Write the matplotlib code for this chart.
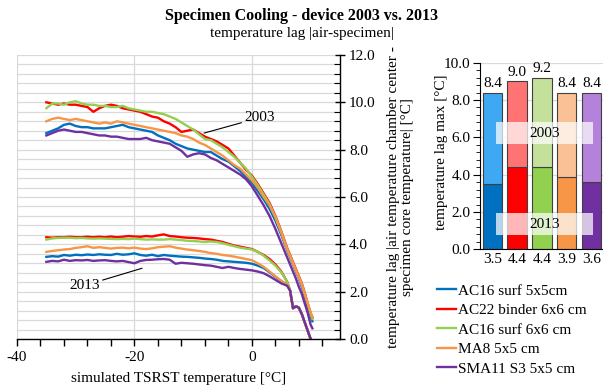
import matplotlib
matplotlib.use("Agg")
import matplotlib.pyplot as plt
from matplotlib.patches import Rectangle
from matplotlib.ticker import MultipleLocator, FormatStrFormatter

plt.rcParams['font.family'] = ['Liberation Serif', 'DejaVu Serif']
plt.rcParams['font.size'] = 11
plt.rcParams['axes.unicode_minus'] = False

# === Données ===
x_base = list(range(-35, 7)) + [6.5, 7, 7.5, 8, 8.5, 9, 9.5, 10]
x_2003 = x_base + [10.3]
x_2013 = x_base

names = ["AC16 surf 5x5cm", "AC22 binder 6x6 cm", "AC16 surf 6x6 cm",
         "MA8 5x5 cm", "SMA11 S3 5x5 cm"]
dark = ["#0070C0", "#FF0000", "#92D050", "#F79646", "#7030A0"]
light = ["#3FA8F2", "#FF7373", "#C4E19C", "#FAC196", "#B482DA"]

# device 2003
blue_2003 = [8.7, 8.8, 8.9, 9.05, 9.1, 9.0, 8.95, 8.95, 8.9, 8.9, 8.9, 8.95, 9.0, 9.05,
             8.95, 8.9, 8.85, 8.8, 8.75, 8.6, 8.5, 8.4, 8.25, 8.15, 8.05, 8.0, 7.95, 7.9,
             7.9, 7.75, 7.6, 7.5, 7.3, 7.1, 6.85, 6.6, 6.25, 5.9, 5.5, 5.0, 4.4, 3.75,
             3.45, 3.15, 2.85, 2.55, 2.2, 1.8, 1.35, 0.95, 0.75]
red_2003 = [10.0, 9.95, 9.9, 9.95, 9.9, 9.9, 9.85, 9.8, 9.6, 9.75, 9.85, 9.9, 9.85, 9.75,
            9.7, 9.65, 9.6, 9.5, 9.4, 9.35, 9.2, 9.1, 8.95, 8.75, 8.8, 8.85, 8.7, 8.55,
            8.45, 8.35, 8.2, 8.05, 7.75, 7.45, 7.15, 6.9, 6.55, 6.15, 5.75, 5.2, 4.55, 3.85,
            3.55, 3.25, 2.95, 2.65, 2.35, 1.95, 1.5, 1.1, 0.9]
green_2003 = [9.75, 9.95, 9.95, 9.9, 10.0, 10.05, 9.95, 9.9, 9.9, 9.85, 9.85, 9.8, 9.8, 9.85,
              9.75, 9.7, 9.65, 9.6, 9.6, 9.55, 9.5, 9.4, 9.3, 9.15, 9.0, 8.85, 8.65, 8.45,
              8.4, 8.25, 8.1, 7.9, 7.7, 7.45, 7.2, 6.85, 6.5, 6.1, 5.7, 5.15, 4.5, 3.8,
              3.5, 3.2, 2.9, 2.6, 2.3, 1.9, 1.5, 1.05, 0.85]
orange_2003 = [9.2, 9.3, 9.35, 9.3, 9.25, 9.3, 9.25, 9.2, 9.15, 9.1, 9.15, 9.1, 9.2, 9.15,
               9.1, 9.05, 9.0, 8.95, 8.9, 8.85, 8.8, 8.75, 8.7, 8.6, 8.55, 8.45, 8.3, 8.2,
               8.05, 7.9, 7.75, 7.55, 7.35, 7.2, 6.95, 6.7, 6.4, 6.0, 5.65, 5.15, 4.5, 3.8,
               3.5, 3.2, 2.9, 2.6, 2.3, 1.9, 1.5, 1.1, 0.95]
purple_2003 = [8.6, 8.7, 8.8, 8.85, 8.8, 8.75, 8.75, 8.7, 8.65, 8.6, 8.6, 8.55, 8.55, 8.5,
               8.45, 8.45, 8.45, 8.5, 8.4, 8.35, 8.3, 8.25, 8.1, 7.95, 7.7, 7.8, 7.85, 7.8,
               7.65, 7.55, 7.4, 7.25, 7.1, 6.95, 6.75, 6.45, 6.05, 5.65, 5.2, 4.65, 4.05, 3.45,
               3.15, 2.85, 2.55, 2.2, 1.9, 1.5, 1.1, 0.6, 0.45]

# device 2013
blue_2013 = [3.47, 3.5, 3.48, 3.55, 3.52, 3.56, 3.54, 3.57, 3.55, 3.58, 3.56, 3.55, 3.6, 3.56,
             3.58, 3.62, 3.55, 3.52, 3.56, 3.5, 3.55, 3.52, 3.5, 3.48, 3.47, 3.45, 3.43, 3.4,
             3.38, 3.35, 3.3, 3.28, 3.26, 3.24, 3.22, 3.18, 3.1, 3.0, 2.82, 2.63, 2.45, 2.28,
             2.05, 1.3, 1.38, 1.32, 1.05, 0.7, 0.35, 0.0]
red_2013 = [4.3, 4.28, 4.3, 4.3, 4.32, 4.3, 4.3, 4.32, 4.3, 4.32, 4.3, 4.33, 4.3, 4.32,
            4.35, 4.33, 4.32, 4.35, 4.33, 4.38, 4.42, 4.35, 4.33, 4.3, 4.28, 4.27, 4.25, 4.22,
            4.2, 4.15, 4.1, 4.02, 3.95, 3.9, 3.85, 3.8, 3.68, 3.55, 3.38, 3.15, 2.85, 2.42,
            2.05, 1.3, 1.38, 1.32, 1.05, 0.7, 0.35, 0.0]
green_2013 = [4.2, 4.25, 4.27, 4.28, 4.28, 4.26, 4.27, 4.25, 4.24, 4.25, 4.24, 4.23, 4.22, 4.23,
              4.22, 4.24, 4.22, 4.2, 4.21, 4.2, 4.2, 4.22, 4.2, 4.18, 4.15, 4.14, 4.12, 4.1,
              4.12, 4.1, 4.05, 3.98, 3.92, 3.86, 3.82, 3.78, 3.68, 3.52, 3.32, 3.1, 2.82, 2.42,
              2.05, 1.3, 1.38, 1.32, 1.05, 0.7, 0.35, 0.0]
orange_2013 = [3.68, 3.72, 3.75, 3.78, 3.8, 3.85, 3.88, 3.92, 3.85, 3.88, 3.85, 3.82, 3.85, 3.86,
               3.83, 3.86, 3.82, 3.8, 3.83, 3.88, 3.9, 3.92, 3.86, 3.82, 3.78, 3.75, 3.72, 3.68,
               3.63, 3.6, 3.55, 3.52, 3.48, 3.43, 3.38, 3.33, 3.2, 3.05, 2.85, 2.65, 2.45, 2.28,
               2.05, 1.3, 1.38, 1.32, 1.05, 0.7, 0.35, 0.0]
purple_2013 = [3.26, 3.3, 3.28, 3.35, 3.3, 3.33, 3.32, 3.34, 3.3, 3.32, 3.33, 3.3, 3.28, 3.3,
               3.25, 3.2, 3.3, 3.34, 3.35, 3.37, 3.38, 3.35, 3.18, 3.22, 3.2, 3.18, 3.15, 3.12,
               3.1, 3.05, 3.0, 3.05, 3.0, 2.96, 2.93, 2.9, 2.85, 2.78, 2.65, 2.5, 2.35, 2.25,
               2.05, 1.3, 1.38, 1.32, 1.05, 0.7, 0.35, 0.0]

series_2003 = [blue_2003, red_2003, green_2003, orange_2003, purple_2003]
series_2013 = [blue_2013, red_2013, green_2013, orange_2013, purple_2013]

# maximum lag per specimen (bar chart)
max_2003 = [8.4, 9.0, 9.2, 8.4, 8.4]
max_2013 = [3.5, 4.4, 4.4, 3.9, 3.6]
bar_labels = ["3.5", "4.4", "4.4", "3.9", "3.6"]

# === Figure ===
fig = plt.figure(figsize=(6.03, 3.90), dpi=100)
ax = fig.add_axes([17 / 603, 1 - 339 / 390, 323 / 603, 284 / 390])

handles = []
for i in range(5):
    h, = ax.plot(x_2003, series_2003[i], color=dark[i], lw=1.7)
    ax.plot(x_2013, series_2013[i], color=dark[i], lw=1.7)
    handles.append(h)

ax.set_xlim(-40, 15)
ax.set_ylim(0, 12)
ax.xaxis.set_major_locator(MultipleLocator(20))
ax.xaxis.set_minor_locator(MultipleLocator(4))
ax.yaxis.set_major_locator(MultipleLocator(2))
ax.yaxis.set_minor_locator(MultipleLocator(0.4))
ax.yaxis.set_major_formatter(FormatStrFormatter('%.1f'))
ax.yaxis.tick_right()
ax.grid(True, which='minor', axis='y', color='#D9D9D9', lw=0.9)
ax.grid(True, which='major', axis='y', color='#D9D9D9', lw=0.9)
ax.grid(True, which='major', axis='x', color='#D9D9D9', lw=0.9)
ax.set_axisbelow(True)
for s in ['left', 'top']:
    ax.spines[s].set_visible(False)
ax.spines['right'].set_linewidth(1.0)
ax.spines['bottom'].set_linewidth(1.0)
ax.tick_params(axis='x', which='both', direction='out', length=5, width=1.0, labelsize=11)
ax.tick_params(axis='y', which='major', direction='inout', length=7, width=1.0, labelsize=11, pad=3)
ax.tick_params(axis='y', which='minor', direction='in', length=4, width=0.8)
ax.set_xlabel("simulated TSRST temperature [°C]", fontsize=11, labelpad=6)

ax.annotate("2003", xy=(-8.15, 8.7), xytext=(1.3, 9.35), ha='center', va='center',
            fontsize=11, arrowprops=dict(arrowstyle='-', color='black', lw=0.8,
                                         shrinkA=0, shrinkB=0))
ax.annotate("2013", xy=(-18.7, 2.99), xytext=(-28.5, 2.26), ha='center', va='center',
            fontsize=11, arrowprops=dict(arrowstyle='-', color='black', lw=0.8,
                                         shrinkA=0, shrinkB=0))

fig.text(400 / 603, 1 - 197 / 390,
         "temperature lag |air temperature chamber center -\nspecimen core temperature| [°C]",
         rotation=90, ha='center', va='center', fontsize=11, linespacing=1.1)

fig.text(0.5, 1 - 16 / 390, "Specimen Cooling - device 2003 vs. 2013",
         ha='center', va='center', fontsize=11.5, fontweight='bold')
fig.text(0.5, 1 - 33 / 390, "temperature lag |air-specimen|",
         ha='center', va='center', fontsize=11)

# === Graphique à barres ===
ax2 = fig.add_axes([480 / 603, 1 - 249.3 / 390, 123.8 / 603, 186.6 / 390])
pos = list(range(5))
top = [a - b for a, b in zip(max_2003, max_2013)]
ax2.bar(pos, max_2013, width=0.79, color=dark, edgecolor='#404040', lw=0.8, zorder=2)
ax2.bar(pos, top, bottom=max_2013, width=0.79, color=light, edgecolor='#404040', lw=0.8, zorder=2)
for p, v in zip(pos, max_2003):
    ax2.annotate(f"{v:.1f}", xy=(p, v), xytext=(0, 2), textcoords='offset points',
                 ha='center', va='bottom', fontsize=11)
ax2.set_xlim(-0.5, 4.5)
ax2.set_ylim(0, 10)
ax2.set_xticks(pos)
ax2.set_xticklabels(bar_labels)
ax2.yaxis.set_major_locator(MultipleLocator(2))
ax2.yaxis.set_minor_locator(MultipleLocator(0.4))
ax2.yaxis.set_major_formatter(FormatStrFormatter('%.1f'))
ax2.grid(True, which='major', axis='y', color='#D9D9D9', lw=0.9, zorder=0)
ax2.set_axisbelow(True)
for s in ['right', 'top']:
    ax2.spines[s].set_visible(False)
ax2.tick_params(axis='x', length=0, labelsize=11, pad=3)
ax2.tick_params(axis='y', which='major', direction='out', length=5, labelsize=11, pad=2)
ax2.tick_params(axis='y', which='minor', direction='out', length=3)
fig.text(441 / 603, 1 - 152 / 390, "temperature lag max [°C]", rotation=90,
         ha='center', va='center', fontsize=11)

for y0, lab in [(0.564, "2003"), (0.077, "2013")]:
    ax2.add_patch(Rectangle((0.13, y0), 0.784, 0.116, transform=ax2.transAxes,
                            facecolor='white', alpha=0.72, edgecolor='none', zorder=3))
    ax2.text(0.522, y0 + 0.058, lab, transform=ax2.transAxes, ha='center', va='center',
             fontsize=11, zorder=4)

fig.legend(handles, names, loc='upper left', bbox_to_anchor=(437 / 603, 1 - 284 / 390),
           frameon=False, fontsize=11, handlelength=1.25, handletextpad=0.1,
           labelspacing=0.38, borderpad=0, borderaxespad=0)

fig.savefig("out.png", dpi=100)
